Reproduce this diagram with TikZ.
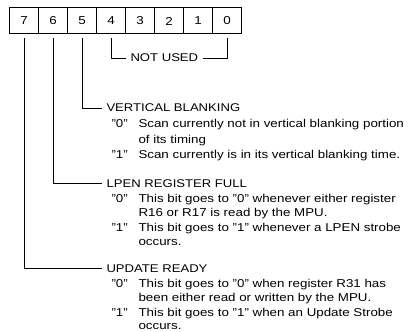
\documentclass[tikz,border=0pt]{standalone}
\usepackage{fontspec}
\setmainfont{Liberation Sans}[FakeStretch=1.17]
\tikzset{every picture/.style={line width=0.75pt}}
\tikzset{
  bitbox/.style={draw,minimum width=21.75pt,minimum height=19.5pt,inner sep=0pt,font=\fontsize{8.6}{10}\selectfont},
  head/.style={anchor=base west,inner xsep=3pt,inner ysep=0pt,font=\fontsize{8.4}{10}\selectfont},
  txt/.style={anchor=base west,inner sep=0pt,font=\fontsize{8.55}{10}\selectfont},
  lead/.style={shorten <=3pt}
}
\begin{document}
\begin{tikzpicture}[x=0.75pt,y=0.75pt,yscale=-1,xscale=1]
\useasboundingbox (0,0) rectangle (409,331);

%Shape: Bit boxes
\foreach \b [count=\i from 0] in {7,6,5,4,3,2,1,0}
  \node[bitbox] (b\b) at (24+29*\i,21) {\b};

% Text Node
\node[head] (nu) at (126,62) {NOT USED};
%Straight Lines
\draw [lead] (b4.south) |- (nu.west);
\draw [shorten >=3pt] (nu.east) -| (b0.south);

% Text Node
\node[head] (vb) at (102,112) {VERTICAL BLANKING};
\node[txt] (vbq0) at (111,128) {''0''};
\node[txt] (vbt0) at (138,128) {Scan currently not in vertical blanking portion};
\node[txt] (vbt0b) at (138,143) {of its timing};
\node[txt] (vbq1) at (111,158) {''1''};
\node[txt] (vbt1) at (138,158) {Scan currently is in its vertical blanking time.};
%Straight Lines
\draw [lead] (b5.south) |- (vb.west);

% Text Node
\node[head] (lp) at (102,187) {LPEN REGISTER FULL};
\node[txt] (lpq0) at (111,202) {''0''};
\node[txt] (lpt0) at (138,202) {This bit goes to ''0'' whenever either register};
\node[txt] (lpt0b) at (138,216) {R16 or R17 is read by the MPU.};
\node[txt] (lpq1) at (111,231) {''1''};
\node[txt] (lpt1) at (138,231) {This bit goes to ''1'' whenever a LPEN strobe};
\node[txt] (lpt1b) at (138,245) {occurs.};
%Straight Lines
\draw [lead] (b6.south) |- (lp.west);

% Text Node
\node[head] (up) at (102,272) {UPDATE READY};
\node[txt] (upq0) at (111,287) {''0''};
\node[txt] (upt0) at (138,287) {This bit goes to ''0'' when register R31 has};
\node[txt] (upt0b) at (138,301) {been either read or written by the MPU.};
\node[txt] (upq1) at (111,316) {''1''};
\node[txt] (upt1) at (138,316) {This bit goes to ''1'' when an Update Strobe};
\node[txt] (upt1b) at (138,329) {occurs.};
%Straight Lines
\draw [lead] (b7.south) |- (up.west);

\end{tikzpicture}
\end{document}
